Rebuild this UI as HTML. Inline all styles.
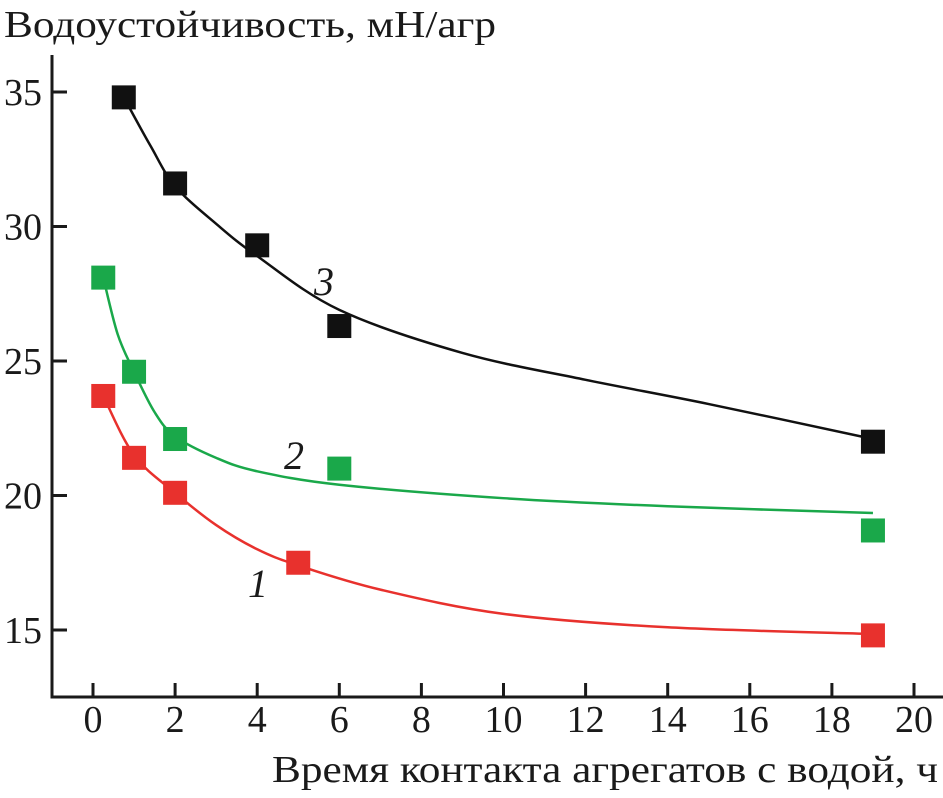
<!DOCTYPE html>
<html><head><meta charset="utf-8"><style>
body{margin:0;background:#fff}
svg text{font-family:"Liberation Serif",serif;fill:#1a1a1a}
</style></head><body>
<svg id="c" width="943" height="793" xmlns="http://www.w3.org/2000/svg">
<text x="4" y="37" font-size="38" textLength="492" lengthAdjust="spacingAndGlyphs">Водоустойчивость, мН/агр</text>
<text x="272" y="782" font-size="38" textLength="666" lengthAdjust="spacingAndGlyphs">Время контакта агрегатов с водой, ч</text>
<g id="axes"></g><g id="curves"></g><g id="marks"></g>
<text x="248" y="597" font-size="40" font-style="italic">1</text>
<text x="284" y="469" font-size="40" font-style="italic">2</text>
<text x="314" y="295" font-size="40" font-style="italic">3</text>
</svg>
<script>
const xTicks=[0,2,4,6,8,10,12,14,16,18,20];
const yTicks=[15,20,25,30,35];
const s1X=[0.25,1,2,5,19], s1Y=[23.7,21.4,20.1,17.5,14.8];
const s2X=[0.25,1,2,6,19], s2Y=[28.1,24.6,22.1,21.0,18.7];
const s3X=[0.75,2,4,6,19], s3Y=[34.8,31.6,29.3,26.3,22.0];
const c1X=[0.25,1,2,3,4,5,7,10,14,19], c1Y=[23.7,21.5,20.1,18.9,18.0,17.4,16.5,15.6,15.1,14.85];
const c2X=[0.25,0.6,1,1.5,2,3,4,6,10,14,19], c2Y=[28.1,26.0,24.6,23.1,22.2,21.4,20.9,20.4,19.9,19.6,19.35];
const c3X=[0.75,1.4,2,3,4,6,9,12,15,19], c3Y=[34.8,33.0,31.5,30.1,28.9,26.9,25.3,24.3,23.4,22.1];
const NS="http://www.w3.org/2000/svg";
const X=v=>93+v*41.05, Y=v=>630-(v-15)*26.9;
function mk(t,a,p){const e=document.createElementNS(NS,t);for(const k in a)e.setAttribute(k,a[k]);p.appendChild(e);return e;}
const ax=document.getElementById('axes');
let e=mk('path',{d:'M52,55 V697 H943',fill:'none',stroke:'#1a1a1a','stroke-width':3},ax);

xTicks.forEach(t=>{let l=mk('line',{x1:X(t),x2:X(t),y1:697,y2:683,stroke:'#1a1a1a','stroke-width':3},ax);

let tx=mk('text',{x:X(t),y:732,'font-size':38,'text-anchor':'middle'},ax);tx.textContent=t;
});
yTicks.forEach(t=>{let l=mk('line',{x1:52,x2:67,y1:Y(t),y2:Y(t),stroke:'#1a1a1a','stroke-width':3},ax);

let tx=mk('text',{x:42,y:Y(t)+13,'font-size':38,'text-anchor':'end'},ax);tx.textContent=t;
});
function smooth(xs,ys){const p=xs.map((x,i)=>[X(x),Y(ys[i])]);let d='M'+p[0];
for(let i=0;i<p.length-1;i++){const p0=p[i-1]||p[i],p1=p[i],p2=p[i+1],p3=p[i+2]||p2;
d+=' C'+(p1[0]+(p2[0]-p0[0])/6)+','+(p1[1]+(p2[1]-p0[1])/6)+' '+(p2[0]-(p3[0]-p1[0])/6)+','+(p2[1]-(p3[1]-p1[1])/6)+' '+p2;}return d;}
const cg=document.getElementById('curves'),mg=document.getElementById('marks');
[[c1X,c1Y,s1X,s1Y,'#e8312d','1'],[c2X,c2Y,s2X,s2Y,'#1aa84a','2'],[c3X,c3Y,s3X,s3Y,'#111','3']].forEach(([cx,cy,sx,sy,col,n])=>{
let p=mk('path',{d:smooth(cx,cy),fill:'none',stroke:col,'stroke-width':2.5},cg);

sx.forEach((x,i)=>{let r=mk('rect',{x:X(x)-12,y:Y(sy[i])-12,width:24,height:24,fill:col},mg);
});});
</script>
</body></html>
